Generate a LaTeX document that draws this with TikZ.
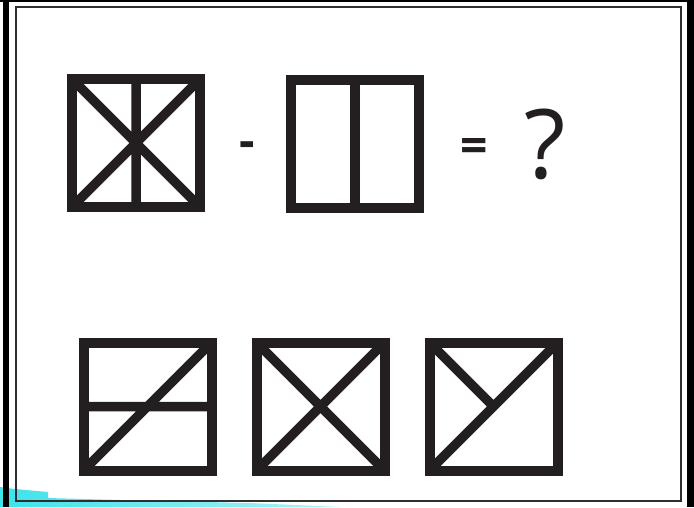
\documentclass[tikz,border=0pt]{standalone}
\usepackage{fontspec}
\setmainfont{Open Sans}
\usetikzlibrary{positioning}
\definecolor{inkdark}{HTML}{231F20}
\definecolor{framegrey}{HTML}{2E2E2E}
\definecolor{swoosh}{HTML}{40E2EA}
\tikzset{
  figbox/.style={draw=inkdark, line width=10pt, minimum size=128pt, inner sep=0pt, outer sep=0pt},
  bar/.style={draw=inkdark, line width=9.5pt},
  sym/.style={font=\bfseries\fontsize{#1}{#1}\selectfont, text=inkdark, inner sep=0pt, anchor=base},
  sym/.default=48,
}

\begin{document}
\begin{tikzpicture}[x=1pt, y=-1pt]
  \useasboundingbox (0,0) rectangle (694,507);
  % cyan swoosh at the lower left
  \shade[left color=swoosh, right color=swoosh!45]
    (0,487) -- (15,489) -- (48,492) -- (48,498) -- (120,500) -- (250,503) -- (340,507) -- (0,507) -- cycle;
  % frame
  \draw[framegrey, line width=2pt] (15.5,7) rectangle (680.5,500.5);
  \draw[black, line width=6pt] (6,0) -- (6,507);
  \draw[black, line width=7pt] (690.5,0) -- (690.5,507);
  \draw[black, line width=1.5pt] (0,0.75) -- (694,0.75);
  % question row
  \node[figbox] (q1) at (136,143) {};
  \node[figbox] (q2) at (355,143.5) {};
  \draw[bar] (q1.south west) -- (q1.north east) (q1.north west) -- (q1.south east) (q1.north) -- (q1.south);
  \draw[bar] (q2.north) -- (q2.south);
  \node[sym] (minus) at (247,157) {-};
  \node[sym] (equals) at (474.5,162) {=};
  \node[sym=96, font=\mdseries\fontsize{96}{96}\selectfont] (qmark) at (545,178) {?};
  % answer row
  \foreach \n/\x in {a/147.5, b/320.5, c/493.5} {
    \node[figbox] (\n) at (\x,406.5) {};
  }
  \draw[bar] (a.west) -- (a.east) (a.south west) -- (a.north east);
  \draw[bar] (b.south west) -- (b.north east) (b.north west) -- (b.south east);
  \draw[bar] (c.south west) -- (c.north east) (c.north west) -- (c.center);
\end{tikzpicture}
\end{document}
